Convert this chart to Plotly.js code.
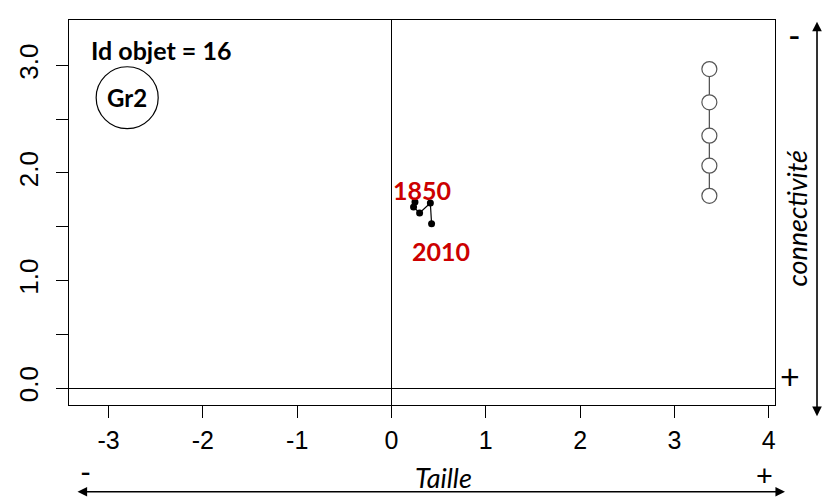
<!DOCTYPE html>
<html>
<head>
<meta charset="utf-8">
<script src="https://cdn.plot.ly/plotly-3.0.1.min.js"></script>
<style>html,body{margin:0;padding:0;background:#fff;}#chart{width:822px;height:502px;}</style>
</head>
<body>
<div id="chart"></div>
<script>
// trajectory of object 16 (1850 -> 2010)
var years = ["1850", "1900", "1950", "1990", "2010"];
var trajX = [0.249, 0.234, 0.298, 0.412, 0.425];
var trajY = [1.730, 1.684, 1.628, 1.721, 1.528];
// vertical reference scale on the right
var scaleX = [3.371, 3.371, 3.371, 3.371, 3.371];
var scaleY = [2.967, 2.657, 2.347, 2.068, 1.788];
// axis ticks
var xTickVals = [-3, -2, -1, 0, 1, 2, 3, 4];
var xTickText = ["-3", "-2", "-1", "0", "1", "2", "3", "4"];
var yTickVals = [0, 0.5, 1, 1.5, 2, 2.5, 3];
var yTickText = ["0.0", "", "1.0", "", "2.0", "", "3.0"];

var labelFont = "Lato, 'Open Sans', sans-serif";

var traces = [
  {
    x: scaleX, y: scaleY, type: "scatter", mode: "lines+markers",
    line: {color: "#555555", width: 1.3},
    marker: {symbol: "circle", size: 15, color: "#ffffff", line: {color: "#555555", width: 1.2}},
    hoverinfo: "skip", showlegend: false
  },
  {
    x: trajX, y: trajY, text: years, type: "scatter", mode: "lines+markers",
    line: {color: "#000000", width: 1.2},
    marker: {symbol: "circle", size: 7, color: "#000000"},
    showlegend: false
  }
];

var layout = {
  width: 822, height: 502,
  margin: {l: 68.7, r: 47, t: 20.3, b: 96.7, pad: 0},
  paper_bgcolor: "#ffffff", plot_bgcolor: "#ffffff",
  showlegend: false,
  xaxis: {
    range: [-3.42, 4.067], showgrid: false,
    zeroline: true, zerolinecolor: "#000000", zerolinewidth: 1,
    showline: true, linecolor: "#000000", linewidth: 1, mirror: true,
    tickmode: "array", tickvals: xTickVals, ticktext: xTickText,
    ticks: "outside", ticklen: 12, tickcolor: "#000000", tickwidth: 1,
    ticklabelstandoff: 1,
    tickfont: {family: "'Liberation Sans', Arial, sans-serif", size: 25, color: "#000000"}
  },
  yaxis: {
    range: [-0.158, 3.423], showgrid: false,
    zeroline: true, zerolinecolor: "#000000", zerolinewidth: 1,
    showline: true, linecolor: "#000000", linewidth: 1, mirror: true,
    tickmode: "array", tickvals: yTickVals, ticktext: yTickText,
    ticks: "outside", ticklen: 12, tickcolor: "#000000", tickwidth: 1,
    tickangle: -90, ticklabelstandoff: 8,
    tickfont: {family: "'Liberation Sans', Arial, sans-serif", size: 26, color: "#000000"}
  },
  shapes: [
    {type: "circle", xref: "x", yref: "y", x0: -3.132, x1: -2.474, y0: 2.412, y1: 2.988,
     line: {color: "#000000", width: 1.2}}
  ],
  annotations: [
    {text: "<b>Id objet = 16</b>", xref: "paper", yref: "paper", x: 0.029, y: 0.923,
     xanchor: "left", yanchor: "middle", showarrow: false,
     font: {family: labelFont, size: 25, color: "#000000"}},
    {text: "<b>Gr2</b>", xref: "x", yref: "y", x: -2.803, y: 2.70,
     xanchor: "center", yanchor: "middle", showarrow: false,
     font: {family: labelFont, size: 24, color: "#000000"}},
    {text: "<b>1850</b>", xref: "x", yref: "y", x: 0.327, y: 1.845,
     xanchor: "center", yanchor: "middle", showarrow: false,
     font: {family: labelFont, size: 25, color: "#cc0000"}},
    {text: "<b>2010</b>", xref: "x", yref: "y", x: 0.528, y: 1.277,
     xanchor: "center", yanchor: "middle", showarrow: false,
     font: {family: labelFont, size: 25, color: "#cc0000"}},
    // horizontal double arrow
    {text: "", xref: "paper", yref: "paper", x: 1.0142, y: -0.2252, ax: -709, ay: 0,
     axref: "pixel", ayref: "pixel", showarrow: true, arrowside: "end+start",
     arrowhead: 2, arrowsize: 1.2, arrowwidth: 1.6, arrowcolor: "#000000"},
    // vertical double arrow
    {text: "", xref: "paper", yref: "paper", x: 1.0595, y: 0.9956, ax: 0, ay: 396,
     axref: "pixel", ayref: "pixel", showarrow: true, arrowside: "end+start",
     arrowhead: 2, arrowsize: 1.2, arrowwidth: 1.6, arrowcolor: "#000000"},
    {text: "-", xref: "paper", yref: "paper", x: 0.0231, y: -0.172, showarrow: false,
     height: 20, valign: "middle",
     xanchor: "center", yanchor: "middle", font: {family: labelFont, size: 30, color: "#000000"}},
    {text: "+", xref: "paper", yref: "paper", x: 0.9857, y: -0.180, showarrow: false,
     height: 20, valign: "middle",
     xanchor: "center", yanchor: "middle", font: {family: labelFont, size: 29, color: "#000000"}},
    {text: "<i>Taille</i>", xref: "paper", yref: "paper", x: 0.530, y: -0.1886, showarrow: false,
     xanchor: "center", yanchor: "middle", font: {family: labelFont, size: 27, color: "#000000"}},
    {text: "-", xref: "paper", yref: "paper", x: 1.0283, y: 0.962, showarrow: false,
     xanchor: "center", yanchor: "middle", font: {family: labelFont, size: 34, color: "#000000"}},
    {text: "+", xref: "paper", yref: "paper", x: 1.021, y: 0.076, showarrow: false,
     xanchor: "center", yanchor: "middle", font: {family: labelFont, size: 34, color: "#000000"}},
    {text: "<i>connectivité</i>", xref: "paper", yref: "paper", x: 1.031, y: 0.4865, textangle: -90,
     showarrow: false, xanchor: "center", yanchor: "middle",
     font: {family: labelFont, size: 27, color: "#000000"}}
  ]
};

Plotly.newPlot("chart", traces, layout, {displayModeBar: false, staticPlot: true});
</script>
</body>
</html>
